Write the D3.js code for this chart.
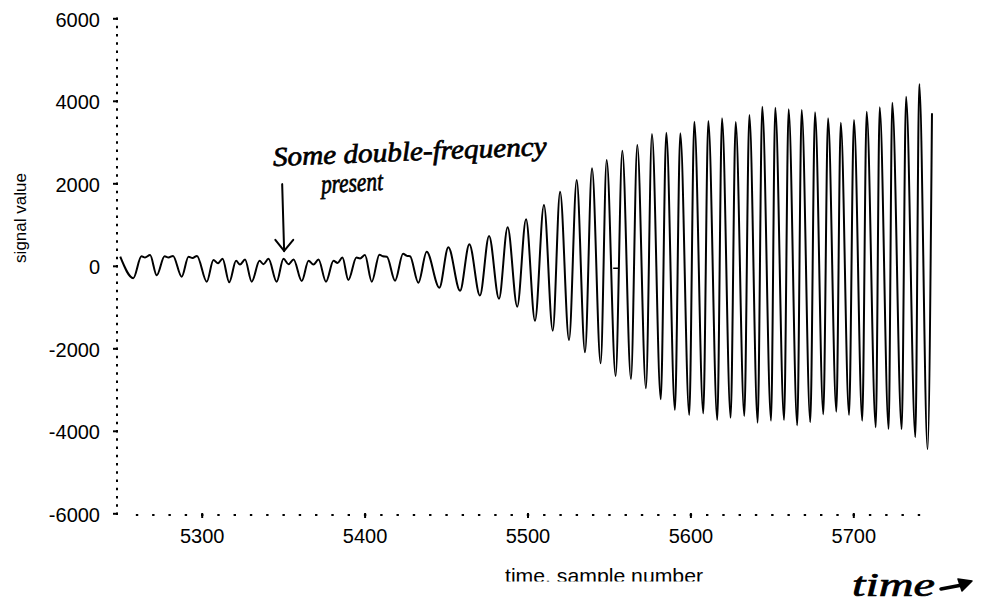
<!DOCTYPE html>
<html>
<head>
<meta charset="utf-8">
<script src="https://cdn.jsdelivr.net/npm/d3@7"></script>
<style>
  body { margin: 0; background: #fff; }
  svg { display: block; }
  .tick text { font-family: "Liberation Sans", Arial, sans-serif; font-size: 20px; fill: #000; }
  .hand { font-family: "Liberation Serif", serif; font-style: italic; fill: #000; stroke: #000; stroke-width: 0.7; }
</style>
</head>
<body>
<svg id="chart" width="984" height="606"></svg>
<script>
// turning points of the trace: sample number -> signal value
const sampleNumber = [
  5250.0, 5258.0, 5263.0, 5265.2, 5268.3, 5272.4, 5277.2, 5279.6, 5282.4, 5287.7,
  5291.9, 5294.4, 5297.1, 5303.1, 5307.2, 5310.0, 5312.8, 5316.9, 5321.1, 5323.5,
  5326.6, 5330.7, 5335.5, 5337.9, 5341.0, 5346.0, 5350.2, 5353.3, 5356.4, 5361.4,
  5365.6, 5368.6, 5371.7, 5376.3, 5380.9, 5383.4, 5386.4, 5390.0, 5395.0, 5397.2,
  5400.2, 5404.4, 5409.1, 5411.3, 5413.7, 5418.7, 5423.6, 5426.0, 5427.9, 5433.0,
  5438.1, 5445.9, 5451.4, 5458.6, 5464.3, 5470.8, 5476.4, 5482.5, 5487.8, 5493.7,
  5499.1, 5504.6, 5510.1, 5515.5, 5520.0, 5525.5, 5530.2, 5535.3, 5539.6, 5544.9,
  5548.6, 5554.1, 5558.2, 5563.5, 5567.4, 5572.7, 5576.4, 5581.8, 5585.2, 5590.5,
  5593.8, 5599.3, 5602.4, 5607.9, 5611.0, 5616.5, 5619.4, 5624.7, 5627.8, 5633.1,
  5636.2, 5641.3, 5644.1, 5649.5, 5652.1, 5657.5, 5660.3, 5665.6, 5668.3, 5673.6,
  5676.5, 5681.6, 5684.5, 5689.6, 5692.3, 5697.4, 5700.4, 5705.5, 5708.2, 5713.8,
  5716.2, 5721.7, 5723.9, 5729.7, 5732.4, 5738.1, 5740.5, 5745.6, 5748.3
];
const signal = [
   220, -300,  230,  200,  260, -230,  230,  200,  240, -265,
   220,  190,  240, -385,  140,   60,  170, -400,  120,   30,
   150, -385,  120,   40,  170, -385,  170,   40,  150, -370,
   120,   30,  150, -385,  120,   70,  200, -345,  200,  180,
   260, -385,  270,  230,  220, -360,  290,  240,  230, -410,
   342, -530,  450, -605,  525, -720,  725, -800,  935, -990,
  1127, -1330, 1474, -1573, 1797, -1799, 2080, -2097, 2363, -2364,
  2565, -2671, 2790, -2744, 2928, -2970, 3195, -3236, 3226, -3495,
  3212, -3616, 3494, -3576, 3510, -3738, 3575, -3681, 3486, -3641,
  3656, -3802, 3857, -3754, 3833, -3738, 3793, -3867, 3777, -3794,
  3720, -3600, 3575, -3536, 3470, -3616, 3535, -3754, 3737, -3915,
  3841, -3956, 3954, -3963, 4099, -4157, 4407, -4448, 3700
];

const xMajor = [5300, 5400, 5500, 5600, 5700];
const xMinor = d3.range(5260, 5741, 10);
const yMajor = [-6000, -4000, -2000, 0, 2000, 4000, 6000];
const yMinor = d3.range(-6000, 6001, 200);

const svg = d3.select('#chart');
const x = d3.scaleLinear().domain([5250, 5750]).range([120.25, 934.75]);
const y = d3.scaleLinear().domain([-6000, 6000]).range([513.3, 18.3]);

// plain hyphen for negatives, like the original print
const plain = d => String(d);

// dotted axes: tiny square ticks for the minor steps
const yMinorAxis = d3.axisLeft(y).tickValues(yMinor).tickSize(2).tickFormat('');
const yMajorAxis = d3.axisLeft(y).tickValues(yMajor).tickSize(5).tickPadding(13).tickFormat(plain);
const xMinorAxis = d3.axisBottom(x).tickValues(xMinor).tickSize(2).tickFormat('');
const xMajorAxis = d3.axisBottom(x).tickValues(xMajor).tickSize(5).tickPadding(11).tickFormat(plain);

const gy1 = svg.append('g').attr('transform', 'translate(118,0)').call(yMinorAxis);
const gy2 = svg.append('g').attr('transform', 'translate(118,0)').call(yMajorAxis);
const gx1 = svg.append('g').attr('transform', 'translate(0,514)').call(xMinorAxis);
const gx2 = svg.append('g').attr('transform', 'translate(0,513)').call(xMajorAxis);

[gy1, gy2, gx1, gx2].forEach(g => g.select('.domain').remove());
gy1.selectAll('line').attr('stroke', '#000').attr('stroke-width', 2.4);
gx1.selectAll('line').attr('stroke', '#000').attr('stroke-width', 2.4);
gy2.selectAll('line').attr('stroke', '#000').attr('stroke-width', 2);
gx2.selectAll('line').attr('stroke', '#000').attr('stroke-width', 2);
gy2.selectAll('text').attr('dy', '0.4em');

// the trace
const pts = sampleNumber.map((t, i) => [t, signal[i]]);
const line = d3.line()
  .x(d => x(d[0]))
  .y(d => y(d[1]))
  .curve(d3.curveMonotoneX);

svg.append('path')
  .datum(pts)
  .attr('d', line)
  .attr('fill', 'none')
  .attr('stroke', '#000')
  .attr('stroke-width', 2)
  .attr('stroke-linejoin', 'round');

// small stray pen mark near the middle of the trace
svg.append('line')
  .attr('x1', x(5552.6)).attr('x2', x(5555.8))
  .attr('y1', y(-60)).attr('y2', y(-60))
  .attr('stroke', '#000').attr('stroke-width', 1.5);

// axis titles
svg.append('text')
  .attr('transform', 'translate(25.6,218) rotate(-90)')
  .attr('text-anchor', 'middle')
  .attr('font-family', '"Liberation Sans", Arial, sans-serif')
  .attr('font-size', 17)
  .text('signal value');

// the scanned x title is cut off along its lower edge
svg.append('clipPath').attr('id', 'cut')
  .append('rect').attr('x', 0).attr('y', 0).attr('width', 984).attr('height', 581.5);
svg.append('text')
  .attr('clip-path', 'url(#cut)')
  .attr('x', 505).attr('y', 583)
  .attr('textLength', 198)
  .attr('lengthAdjust', 'spacingAndGlyphs')
  .attr('font-family', '"Liberation Sans", Arial, sans-serif')
  .attr('font-size', 21)
  .text('time, sample number');

// handwritten notes
svg.append('text')
  .attr('class', 'hand')
  .attr('transform', `translate(${x(5343.9)},${y(2419)}) rotate(-2.3)`)
  .attr('textLength', 274)
  .attr('lengthAdjust', 'spacingAndGlyphs')
  .attr('font-size', 27)
  .text('Some double-frequency');

svg.append('text')
  .attr('class', 'hand')
  .attr('transform', `translate(${x(5373.5)},${y(1760)}) rotate(-3)`)
  .attr('textLength', 62)
  .attr('lengthAdjust', 'spacingAndGlyphs')
  .attr('font-size', 27)
  .text('present');

const arrowG = svg.append('g')
  .attr('fill', 'none').attr('stroke', '#000')
  .attr('stroke-width', 2).attr('stroke-linecap', 'round');
arrowG.append('line')
  .attr('x1', x(5349.4)).attr('y1', y(1980))
  .attr('x2', x(5350.6)).attr('y2', y(360));
arrowG.append('path')
  .attr('d', `M${x(5345.2)},${y(630)} L${x(5350.6)},${y(360)} L${x(5356.2)},${y(630)}`);

svg.append('text')
  .attr('class', 'hand')
  .attr('x', 852).attr('y', 596)
  .attr('textLength', 83)
  .attr('lengthAdjust', 'spacingAndGlyphs')
  .attr('font-size', 34)
  .attr('stroke-width', 1.2)
  .text('time');

const timeArrow = svg.append('g').attr('stroke', '#000').attr('fill', '#000');
timeArrow.append('line')
  .attr('x1', 941).attr('y1', 589).attr('x2', 962).attr('y2', 585)
  .attr('stroke-width', 3.5).attr('stroke-linecap', 'round');
timeArrow.append('path')
  .attr('d', 'M958,579 L972,581 L962,591 Z')
  .attr('stroke-width', 1.5).attr('stroke-linejoin', 'round');
</script>
</body>
</html>
